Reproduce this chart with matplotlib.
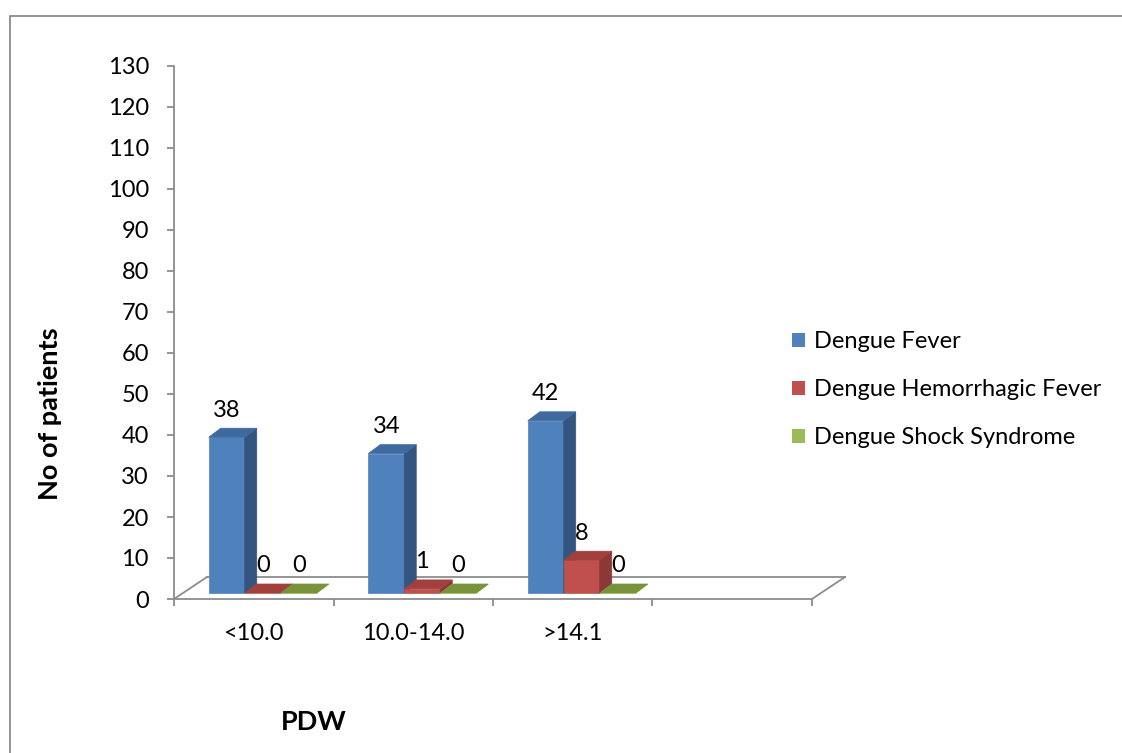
import numpy as np
import matplotlib.pyplot as plt
from matplotlib.patches import Polygon, Rectangle, Patch
from matplotlib.lines import Line2D
from matplotlib.transforms import IdentityTransform

plt.rcParams['font.family'] = ['Lato', 'DejaVu Sans']

# --- data ---
categories = ['<10.0', '10.0-14.0', '>14.1', '']
series_names = ['Dengue Fever', 'Dengue Hemorrhagic Fever', 'Dengue Shock Syndrome']
dengue_fever = [38, 34, 42]
dengue_hemorrhagic = [0, 1, 8]
dengue_shock = [0, 0, 0]
series_values = [dengue_fever, dengue_hemorrhagic, dengue_shock]

# front, side, top shades per series
shades = [('#4F81BD', '#34557F', '#3F6AA0'),
          ('#C0504D', '#8C3836', '#A2403D'),
          ('#9BBB59', '#6F8740', '#77933C')]
GRAY = '#8C8C8C'
FS = 17

W, H, DPI = 1122, 753, 100
fig = plt.figure(figsize=(W / DPI, H / DPI), dpi=DPI)
ax = fig.add_axes([174 / W, 1 - 599 / H, 638 / W, 533 / H])
ax.set_xlim(0, len(categories))
ax.set_ylim(0, 130)
ident = IdentityTransform()

# pixel offsets of the depth planes (display coords, y up)
FRONT = np.array([9, 6])
BACK = np.array([21, 15])
FLOOR = np.array([33, 22])


def px(x, y, off=(0, 0)):
    return ax.transData.transform((x, y)) + np.asarray(off)


# axes styling
for side in ('top', 'right'):
    ax.spines[side].set_visible(False)
for side in ('left', 'bottom'):
    ax.spines[side].set_color(GRAY)
    ax.spines[side].set_linewidth(1.3)
ax.set_yticks(np.arange(0, 131, 10))
ax.tick_params(axis='y', direction='out', length=5, width=1.3, color=GRAY,
               pad=13, labelsize=FS)
ax.set_xticks(np.arange(len(categories) + 1))
ax.set_xticklabels([])
ax.set_xticks(np.arange(len(categories)) + 0.5, minor=True)
ax.set_xticklabels(categories, minor=True)
ax.tick_params(axis='x', which='major', direction='out', length=5, width=1.3,
               color=GRAY)
ax.tick_params(axis='x', which='minor', length=0, pad=17, labelsize=FS)
ax.patch.set_visible(False)

# floor outline
x_end = len(categories)
for a, b in [(px(0, 0), px(0, 0, FLOOR)),
             (px(0, 0, FLOOR), px(x_end, 0, FLOOR)),
             (px(x_end, 0), px(x_end, 0, FLOOR))]:
    ax.add_line(Line2D([a[0], b[0]], [a[1], b[1]], color=GRAY, lw=1.3,
                       transform=ident, clip_on=False, zorder=1))

# 3-D style bars
bw = 0.2257
for i in range(len(dengue_fever)):
    for s, vals in enumerate(series_values):
        v = vals[i]
        x0 = i + 0.5 - 1.5 * bw + s * bw
        x1 = x0 + bw
        front_c, side_c, top_c = shades[s]
        front = [px(x0, 0, FRONT), px(x1, 0, FRONT), px(x1, v, FRONT), px(x0, v, FRONT)]
        side = [px(x1, 0, FRONT), px(x1, 0, BACK), px(x1, v, BACK), px(x1, v, FRONT)]
        top = [px(x0, v, FRONT), px(x1, v, FRONT), px(x1, v, BACK), px(x0, v, BACK)]
        for poly, c in [(front, front_c), (side, side_c), (top, top_c)]:
            ax.add_patch(Polygon(poly, closed=True, facecolor=c, edgecolor=c,
                                 lw=0.5, transform=ident, clip_on=False, zorder=2))
        lx, ly = px((x0 + x1) / 2, v, FRONT) + np.array([0, 27])
        ax.text(lx, ly, str(v), transform=ident, ha='center', va='center',
                fontsize=FS, zorder=3)

# legend
handles = [Patch(facecolor=shades[k][0], edgecolor='none') for k in range(3)]
fig.legend(handles, series_names, loc='upper left',
           bbox_to_anchor=(792 / W, 1 - 331 / H), frameon=False, fontsize=FS,
           handlelength=0.55, handleheight=0.55, handletextpad=0.4,
           labelspacing=1.15, borderpad=0, borderaxespad=0)

# axis titles
fig.text(50 / W, 1 - 414 / H, 'No of patients', rotation=90, ha='center',
         va='center', fontsize=19.5, fontweight='bold')
fig.text(314 / W, 1 - 722 / H, 'PDW', ha='center', va='center',
         fontsize=19.5, fontweight='bold')

# chart-area border
fig.add_artist(Rectangle((10, -5), 1200, H - 16 + 5, transform=ident,
                         fill=False, edgecolor=GRAY, lw=1.3))

fig.savefig('out.png', dpi=DPI)
